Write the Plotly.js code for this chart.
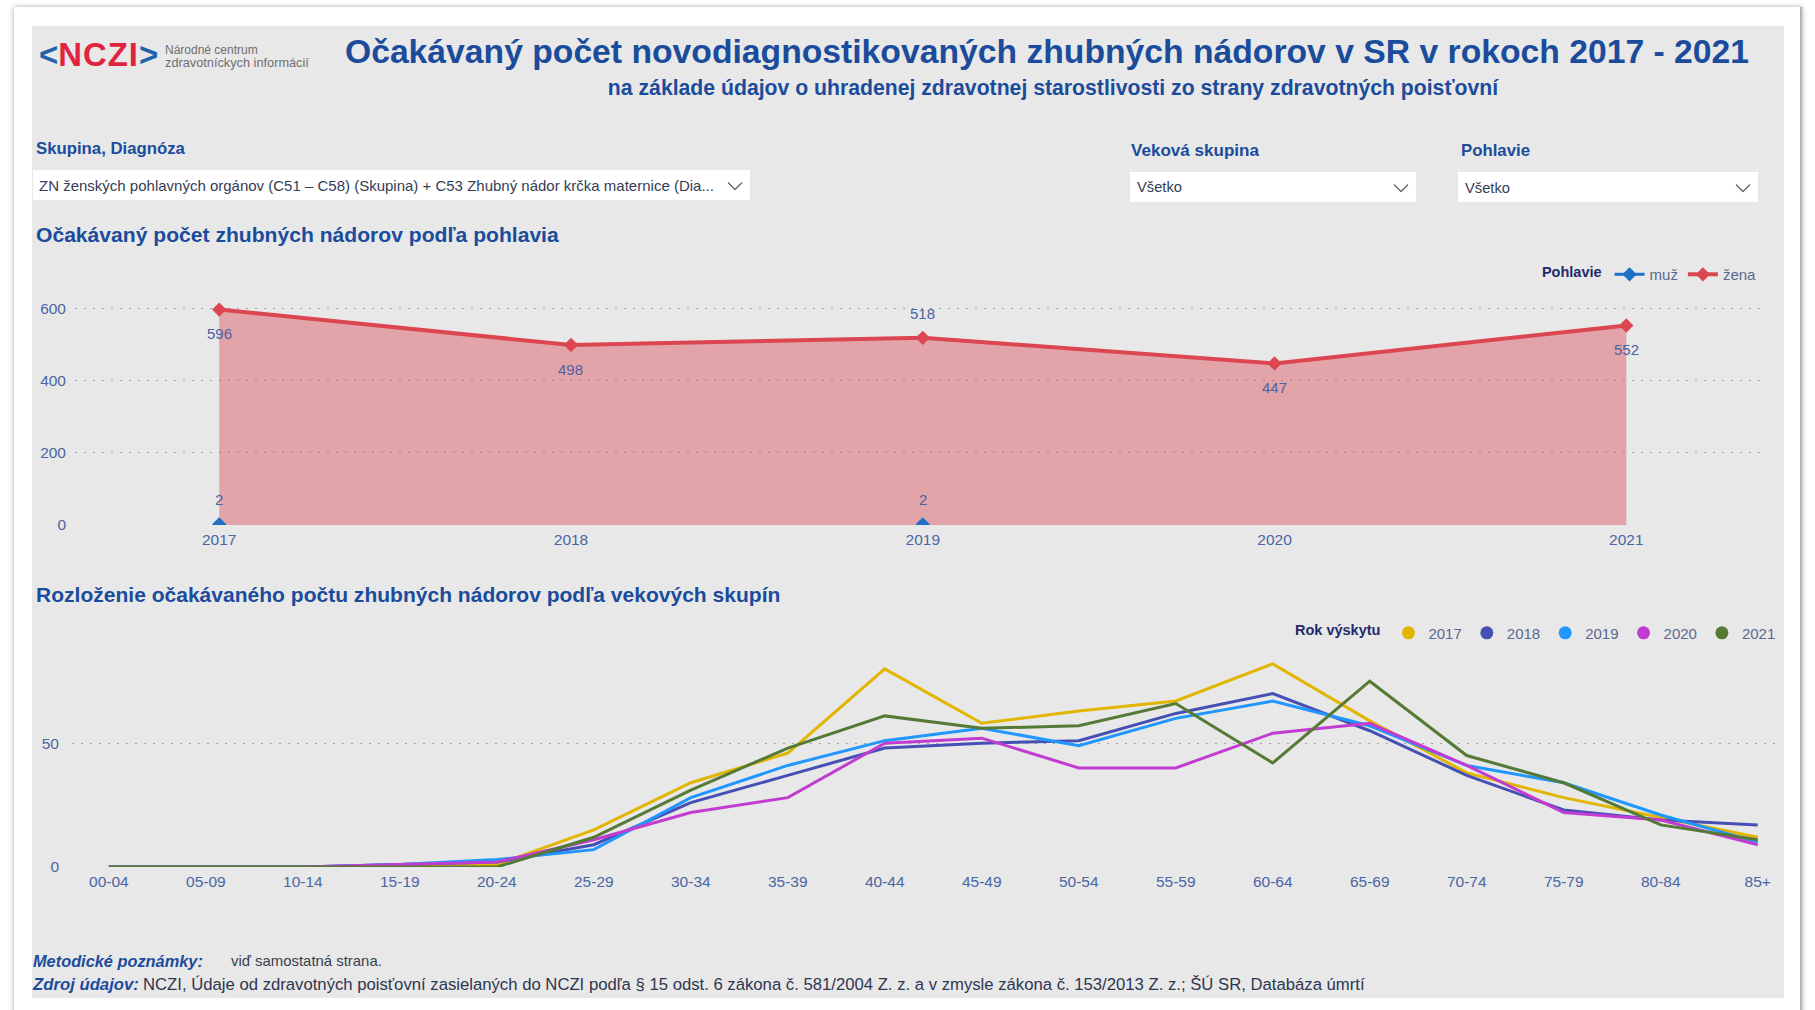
<!DOCTYPE html>
<html lang="sk">
<head>
<meta charset="utf-8">
<script src="https://cdn.plot.ly/plotly-3.0.1.min.js"></script>
<style>
html,body{margin:0;padding:0}
body{width:1815px;height:1010px;overflow:hidden;background:#fff;position:relative;font-family:"Liberation Sans",Arial,sans-serif}
.a{position:absolute;white-space:nowrap;line-height:1}
.vc{transform:translateY(-50%)}
.c{transform:translate(-50%,-50%)}
#card{position:absolute;left:14px;top:7px;width:1786px;height:1030px;background:#fff;box-shadow:0 0 5px rgba(0,0,0,.35);border-right:2px solid #b5b5b5}
#panel{position:absolute;left:32px;top:26px;width:1752px;height:972px;background:#e8e8e8;overflow:hidden}
.hdr{color:#1b4c9c;font-weight:bold}
.box{position:absolute;background:#fff}
.chev{position:absolute;transform:translate(-50%,-50%)}
.chart{position:absolute;left:0}
.dd{color:#343d56}
</style>
</head>
<body>
<div id="card"></div>
<div id="panel">
  <div class="a vc hdr" style="left:1px;top:935px;font-size:16px;font-style:italic" data-w="170">Metodické poznámky:</div>
  <div class="a vc" style="left:199px;top:935px;font-size:13px;color:#3a3f4e" data-w="151">viď samostatná strana.</div>
  <div class="a vc hdr" style="left:1px;top:959px;font-size:16px;font-style:italic" data-w="106">Zdroj údajov:</div>
  <div class="a vc" style="left:111px;top:959px;font-size:15px;color:#2e3650" data-w="1222">NCZI, Údaje od zdravotných poisťovní zasielaných do NCZI podľa § 15 odst. 6 zákona č. 581/2004 Z. z. a v zmysle zákona č. 153/2013 Z. z.; ŠÚ SR, Databáza úmrtí</div>
</div>

<!-- header -->
<div class="a vc" style="left:39px;top:55px;font-size:27px;font-weight:bold" data-w="120"><span style="color:#1f63ad">&lt;</span><span style="color:#e0243f;letter-spacing:1px">NCZI</span><span style="color:#1f63ad">&gt;</span></div>
<div class="a vc" style="left:165px;top:50px;font-size:12px;color:#6f6f6f">Národné centrum</div>
<div class="a vc" style="left:165px;top:63px;font-size:12px;color:#6f6f6f" data-w="144">zdravotníckych informácií</div>
<div class="a c hdr" style="left:1047px;top:52px;font-size:32px" data-w="1405">Očakávaný počet novodiagnostikovaných zhubných nádorov v SR v rokoch 2017 - 2021</div>
<div class="a c hdr" style="left:1053px;top:88px;font-size:17px" data-w="891">na základe údajov o uhradenej zdravotnej starostlivosti zo strany zdravotných poisťovní</div>

<!-- slicers -->
<div class="a vc hdr" style="left:36px;top:149px;font-size:15px" data-w="149">Skupina, Diagnóza</div>
<div class="a vc hdr" style="left:1131px;top:151px;font-size:15px" data-w="128">Veková skupina</div>
<div class="a vc hdr" style="left:1461px;top:151px;font-size:15px" data-w="69">Pohlavie</div>

<div class="box" style="left:33px;top:170px;width:717px;height:30px"></div>
<div class="box" style="left:1130px;top:172px;width:286px;height:30px"></div>
<div class="box" style="left:1458px;top:172px;width:300px;height:30px"></div>
<div class="a vc dd" style="left:39px;top:185px;font-size:14px" data-w="675">ZN ženských pohlavných orgánov (C51 – C58) (Skupina) + C53 Zhubný nádor krčka maternice (Dia...</div>
<div class="a vc dd" style="left:1137px;top:187px;font-size:14px" data-w="45">Všetko</div>
<div class="a vc dd" style="left:1465px;top:188px;font-size:14px" data-w="45">Všetko</div>
<svg class="chev" style="left:735px;top:186px" width="16" height="9"><polyline points="1,1 8,8 15,1" fill="none" stroke="#666" stroke-width="1.3"/></svg>
<svg class="chev" style="left:1401px;top:188px" width="16" height="9"><polyline points="1,1 8,8 15,1" fill="none" stroke="#666" stroke-width="1.3"/></svg>
<svg class="chev" style="left:1743px;top:188px" width="16" height="9"><polyline points="1,1 8,8 15,1" fill="none" stroke="#666" stroke-width="1.3"/></svg>

<!-- section titles -->
<div class="a vc hdr" style="left:36px;top:235px;font-size:19px" data-w="523">Očakávaný počet zhubných nádorov podľa pohlavia</div>
<div class="a vc hdr" style="left:36px;top:595px;font-size:19px" data-w="745">Rozloženie očakávaného počtu zhubných nádorov podľa vekových skupín</div>

<div id="topChart" class="chart" style="top:240px;width:1815px;height:320px"></div>
<div id="ageChart" class="chart" style="top:600px;width:1815px;height:300px"></div>

<script>
// ---- fit header texts to the widths measured on the reference ----
document.querySelectorAll('[data-w]').forEach(function (el) {
  var w = el.getBoundingClientRect().width;
  var fs = parseFloat(getComputedStyle(el).fontSize);
  if (w > 0) el.style.fontSize = (fs * Number(el.dataset.w) / w) + 'px';
});

// ---------------- DATA ----------------
const years = [2017, 2018, 2019, 2020, 2021];
const muzValues = [2, null, 2, null, null];
const zenaValues = [596, 498, 518, 447, 552];

const ageGroups = ['00-04', '05-09', '10-14', '15-19', '20-24', '25-29', '30-34', '35-39', '40-44',
                   '45-49', '50-54', '55-59', '60-64', '65-69', '70-74', '75-79', '80-84', '85+'];
const rok2017 = [0, 0, 0, 0, 1, 15, 34, 46, 80, 58, 63, 67, 82, 59, 38, 28, 20, 12];
const rok2018 = [0, 0, 0, 1, 2, 9, 26, 37, 48, 50, 51, 62, 70, 55, 37, 23, 19, 17];
const rok2019 = [0, 0, 0, 1, 3, 7, 28, 41, 51, 56, 49, 60, 67, 57, 41, 34, 21, 10];
const rok2020 = [0, 0, 0, 1, 2, 11, 22, 28, 50, 52, 40, 40, 54, 58, 41, 22, 19, 9];
const rok2021 = [0, 0, 0, 0, 0, 12, 31, 48, 61, 56, 57, 66, 42, 75, 45, 34, 17, 11];
const yearNames = ['2017', '2018', '2019', '2020', '2021'];

// ---------------- STYLE ----------------
const FONT = '"Liberation Sans", Arial, sans-serif';
const yearColors = ['#e2b600', '#4650b4', '#1f97ff', '#c33cd2', '#557a35'];
const zenaColor = '#dc4651';
const muzColor = '#1f70c8';
const zenaLabelSide = ['below', 'below', 'above', 'below', 'below'];
const muzLabelSide = ['above', 'above', 'above', 'above', 'above'];
const tickFont = {family: FONT, size: 15.5, color: '#4a66a3'};
const labelFont = {family: FONT, size: 15, color: '#4a62a4'};
const legendTitleFont = {family: FONT, size: 14.5, color: '#232a6a'};
const legendFont = {family: FONT, size: 15, color: '#5a6890'};
const gridStyle = {showgrid: true, gridcolor: '#a0a0a0', griddash: '2px,7px', gridwidth: 1.2, zeroline: false};

// ---------------- TOP CHART ----------------
const topTraces = [
  {x: years, y: zenaValues, type: 'scatter', mode: 'none', fill: 'tozeroy',
   fillcolor: 'rgba(218,68,80,0.42)', showlegend: false, hoverinfo: 'skip'},
  {x: years, y: zenaValues, type: 'scatter', mode: 'lines+markers', name: 'žena', legendrank: 2,
   line: {color: zenaColor, width: 4}, marker: {symbol: 'diamond', size: 11, color: zenaColor}},
  {x: years, y: muzValues, type: 'scatter', mode: 'lines+markers', name: 'muž', legendrank: 1,
   connectgaps: false, line: {color: muzColor, width: 3}, marker: {symbol: 'diamond', size: 11, color: muzColor}}
];
const topAnnotations = [];
years.forEach(function (yr, i) {
  if (zenaValues[i] !== null) topAnnotations.push({x: yr, y: zenaValues[i], text: String(zenaValues[i]),
    showarrow: false, yshift: zenaLabelSide[i] === 'above' ? 24 : -24, font: labelFont});
  if (muzValues[i] !== null) topAnnotations.push({x: yr, y: muzValues[i], text: String(muzValues[i]),
    showarrow: false, yshift: muzLabelSide[i] === 'above' ? 25 : -25, font: labelFont});
});

Plotly.newPlot('topChart', topTraces, {
  width: 1815, height: 320,
  margin: {l: 75, r: 48, t: 32, b: 35},
  paper_bgcolor: 'rgba(0,0,0,0)', plot_bgcolor: 'rgba(0,0,0,0)',
  font: {family: FONT},
  xaxis: {range: [2016.59, 2021.40], tickmode: 'array', tickvals: years, ticktext: years.map(String),
          showgrid: false, zeroline: false, showline: false, ticks: '', tickfont: tickFont, ticklabelstandoff: 3},
  yaxis: Object.assign({range: [0, 700], dtick: 200, tick0: 0, ticks: '', showline: false,
          tickfont: tickFont, ticklabelstandoff: 8}, gridStyle),
  showlegend: true,
  legend: {orientation: 'h', x: 0.997, xanchor: 'right', y: 0.99, yanchor: 'middle',
           title: {text: '<b>Pohlavie</b>', font: legendTitleFont}, font: legendFont,
           bgcolor: 'rgba(0,0,0,0)'},
  annotations: topAnnotations,
  hovermode: false
}, {displayModeBar: false, staticPlot: true});

// ---------------- AGE CHART ----------------
// lines carry the data; legend entries are circle keys (no marks drawn on the plot)
const ageSeries = [rok2017, rok2018, rok2019, rok2020, rok2021];
const ageTraces = [];
ageSeries.forEach(function (vals, k) {
  ageTraces.push({x: ageGroups, y: vals, type: 'scatter', mode: 'lines', name: yearNames[k],
    legendgroup: yearNames[k], showlegend: false, line: {color: yearColors[k], width: 3}});
});
ageSeries.forEach(function (vals, k) {
  ageTraces.push({x: ageGroups, y: vals.map(function () { return null; }), type: 'scatter', mode: 'markers',
    name: yearNames[k], legendgroup: yearNames[k], showlegend: true, hoverinfo: 'skip',
    marker: {color: yearColors[k], size: 13}});
});

Plotly.newPlot('ageChart', ageTraces, {
  width: 1815, height: 300,
  margin: {l: 72, r: 34, t: 49, b: 33},
  paper_bgcolor: 'rgba(0,0,0,0)', plot_bgcolor: 'rgba(0,0,0,0)',
  font: {family: FONT},
  xaxis: {type: 'category', range: [-0.38, 17.24], showgrid: false, zeroline: false, showline: false,
          ticks: '', tickfont: tickFont, ticklabelstandoff: 3},
  yaxis: Object.assign({range: [0, 88], dtick: 50, tick0: 0, ticks: '', showline: false,
          tickfont: tickFont, ticklabelstandoff: 12}, gridStyle),
  showlegend: true,
  legend: {orientation: 'h', x: 1, xanchor: 'right', y: 1.073, yanchor: 'middle',
           title: {text: '<b>Rok výskytu</b>', font: legendTitleFont}, font: legendFont,
           bgcolor: 'rgba(0,0,0,0)'},
  hovermode: false
}, {displayModeBar: false, staticPlot: true});
</script>
</body>
</html>
